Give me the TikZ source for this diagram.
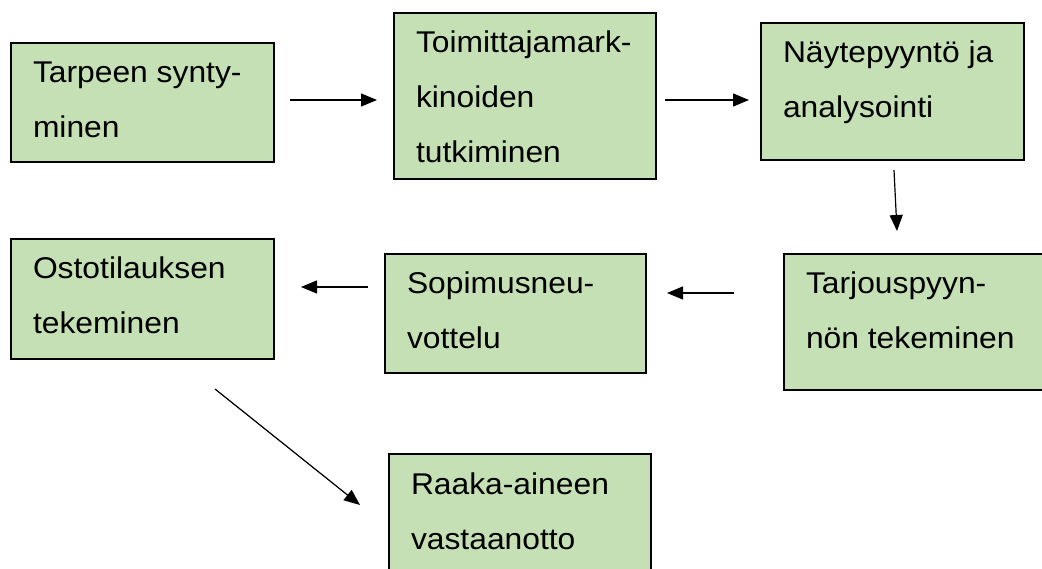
\documentclass[tikz,border=0pt]{standalone}
\usepackage{fontspec}
\setmainfont{Liberation Sans}[FakeStretch=1.06]
\usetikzlibrary{arrows.meta}
\definecolor{boxgreen}{RGB}{197,224,180}
\tikzset{
  stage/.style={draw=black, line width=2pt, fill=boxgreen, inner xsep=22pt, inner ysep=0pt,
    anchor=north west, font=\fontsize{30pt}{36pt}\selectfont},
  flow/.style={line width=1.2pt, -{Triangle[length=16pt,width=13pt]}},
}
% top-aligned stage text: width, height, lines
\newcommand{\stagetext}[3]{\parbox[c][#2pt][t]{\dimexpr#1pt-44pt\relax}{\raggedright\baselineskip=55pt\rule{0pt}{40pt}#3}}
\begin{document}
\begin{tikzpicture}[x=1pt,y=-1pt]
  \clip (0,0) rectangle (1042,569);
  \fill[white] (0,0) rectangle (1042,569);

  \node[stage] (need)    at (10,42)   {\stagetext{263}{119}{Tarpeen synty-\\minen}};
  \node[stage] (market)  at (393,12)  {\stagetext{262}{166}{Toimittajamark-\\kinoiden\\tutkiminen}};
  \node[stage] (sample)  at (760,22)  {\stagetext{263}{137}{Näytepyyntö ja\\analysointi}};
  \node[stage] (quote)   at (783,253) {\stagetext{263}{136}{Tarjouspyyn-\\nön tekeminen}};
  \node[stage] (negot)   at (384,253) {\stagetext{261}{119}{Sopimusneu-\\vottelu}};
  \node[stage] (order)   at (10,238)  {\stagetext{263}{120}{Ostotilauksen\\tekeminen}};
  \node[stage] (receipt) at (388,453) {\stagetext{262}{140}{Raaka-aineen\\vastaanotto}};

  % arrow ends, kept clear of the boxes
  \coordinate (a1s) at (290,100); \coordinate (a1e) at (377,100);
  \coordinate (a2s) at (665,100); \coordinate (a2e) at (749,100);
  \coordinate (a3s) at (894,170); \coordinate (a3e) at (897,231);
  \coordinate (a4s) at (734,293); \coordinate (a4e) at (667,293);
  \coordinate (a5s) at (368,287); \coordinate (a5e) at (301,287);
  \coordinate (a6s) at (215,389); \coordinate (a6e) at (360,505);

  \draw[flow] (a1s) -- (a1e);
  \draw[flow] (a2s) -- (a2e);
  \draw[flow] (a3s) -- (a3e);
  \draw[flow] (a4s) -- (a4e);
  \draw[flow] (a5s) -- (a5e);
  \draw[flow] (a6s) -- (a6e);
\end{tikzpicture}
\end{document}
